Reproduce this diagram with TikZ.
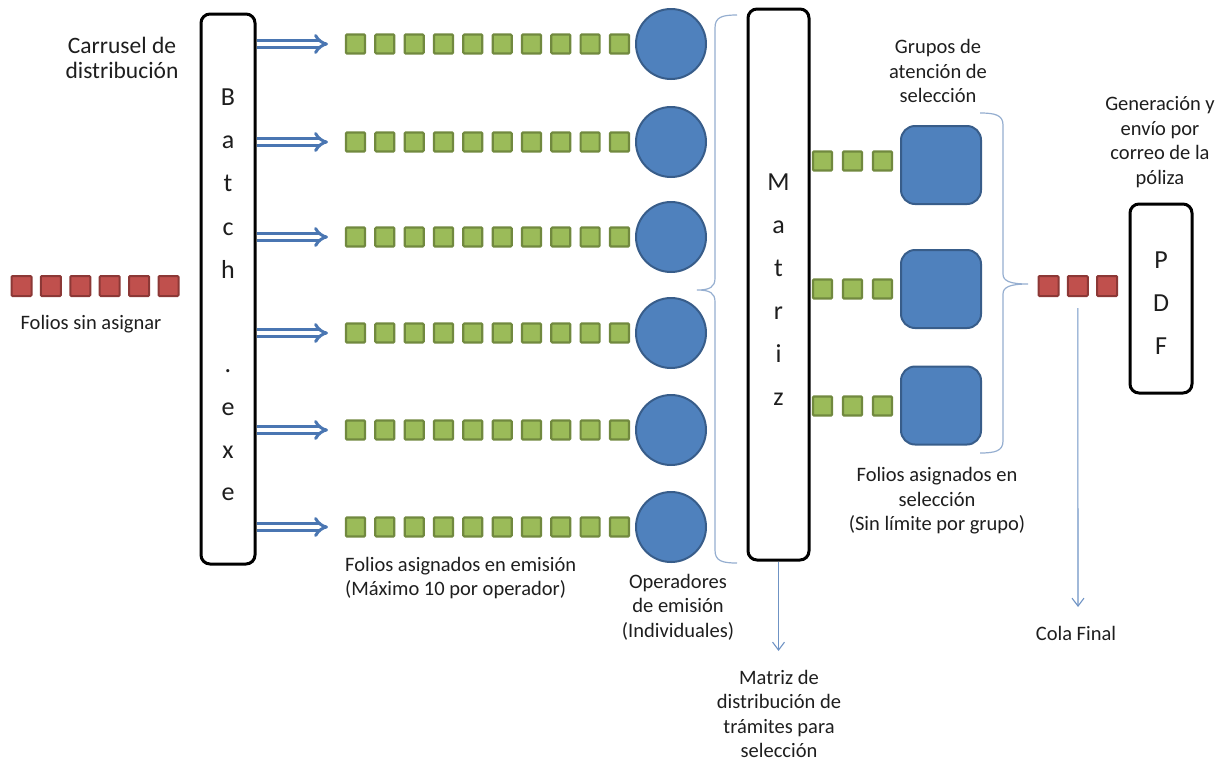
\documentclass[tikz,border=0pt]{standalone}
\usepackage{fontspec}
\setmainfont{Carlito}
\usetikzlibrary{arrows.meta}

\definecolor{sqgreen}{HTML}{9BBB59}
\definecolor{gborder}{HTML}{71893F}
\definecolor{opblue}{HTML}{4F81BD}
\definecolor{opborder}{HTML}{385D8A}
\definecolor{sqred}{HTML}{C0504D}
\definecolor{rborder}{HTML}{8C3836}
\definecolor{arrowblue}{HTML}{4A76B2}
\definecolor{bracecol}{HTML}{95AED0}
\definecolor{thinblue}{HTML}{6F93C4}
\definecolor{txt}{HTML}{1E1E1E}

\begin{document}
\begin{tikzpicture}[x=1pt,y=-1pt,
  label/.style={font=\fontsize{20.5}{24.5}\selectfont, text=txt, align=center, inner sep=0pt},
  biglabel/.style={font=\fontsize{23.5}{25}\selectfont, text=txt, align=center, inner sep=0pt},
  boxletter/.style={font=\fontsize{26}{30}\selectfont, text=txt, anchor=base, inner sep=0pt},
  tallbox/.style={draw=black, line width=3pt, rounded corners=9pt, fill=white, inner sep=0pt},
  gsq/.style={draw=gborder, fill=sqgreen, line width=2.2pt, minimum size=19pt, inner sep=0pt, rounded corners=1pt},
  rsq/.style={draw=rborder, fill=sqred, line width=2pt, minimum size=20pt, inner sep=0pt, rounded corners=1pt},
  opcirc/.style={circle, draw=opborder, fill=opblue, line width=2pt, minimum size=70pt, inner sep=0pt},
  grpbox/.style={draw=opborder, fill=opblue, line width=2pt, minimum width=80pt, minimum height=78pt, rounded corners=14pt, inner sep=0pt},
  dblarrow/.style={draw=arrowblue, line width=3pt, double=white, double distance=3.4pt, -{Implies[scale=1.5]}},
  bracepath/.style={draw=bracecol, line width=1.2pt},
  thinarrow/.style={draw=thinblue, line width=1.1pt, -{Straight Barb[length=8pt,width=12pt]}}
]
\useasboundingbox (0,0) rectangle (1226,764);

% --- Batch.exe distribution column
\node[tallbox, minimum width=54pt, minimum height=550pt] (batch) at (228,289) {};
\foreach \l/\y [count=\i] in {B/105,a/148,t/191,c/235,h/278,./372,e/415,x/458,e/500}
  \node[boxletter] (bl\i) at (228,\y) {\l};
\node[biglabel] (carrusel) at (122,58) {Carrusel de\\distribución};

% --- unassigned folios
\foreach \k in {0,...,5}
  \node[rsq] (u\k) at ({21.5+29.4*\k},286) {};
\node[label] (sinasignar) at (91,324) {Folios sin asignar};

% --- emission rows: queue of ten folios and one operator each
\foreach \r/\y in {1/44,2/142,3/237,4/333,5/430,6/527}{
  \coordinate (tip\r) at (328,\y);
  \draw[dblarrow] (batch.east |- tip\r) -- (tip\r);
  \foreach \k in {0,...,9}
    \node[gsq] (g\r-\k) at ({355.5+29.33*\k},\y) {};
  \node[opcirc] (op\r) at (671,\y) {};
}
\node[label, align=left, anchor=west] (emision) at (345,578) {Folios asignados en emisión\\(Máximo 10 por operador)};
\node[label] (operadores) at (678,607) {Operadores\\de emisión\\(Individuales)};

% --- brace grouping the operators
\draw[bracepath] (737,15) .. controls (722,15) and (715,17) .. (715,28) -- (715,278)
  .. controls (715,287) and (710,290) .. (697,290)
  .. controls (710,290) and (715,293) .. (715,302) -- (715,550)
  .. controls (715,561) and (722,563) .. (737,563);

% --- Matriz column
\node[tallbox, minimum width=61pt, minimum height=551pt] (matriz) at (778.5,284.5) {};
\foreach \l/\y [count=\i] in {M/190,a/233,t/276,r/319,i/362,z/405}
  \node[boxletter] (ml\i) at (778.5,\y) {\l};
\coordinate (mend) at (778.5,651);
\draw[thinarrow] (matriz.south) -- (mend);
\node[label] (matrizlbl) at (779,714) {Matriz de\\distribución de\\trámites para\\selección};

% --- selection groups
\foreach \r/\y/\by in {1/161/165,2/289/289,3/406/405.5}{
  \foreach \k in {0,1,2}
    \node[gsq] (s\r-\k) at ({822.5+30*\k},\y) {};
  \node[grpbox] (grp\r) at (941,\by) {};
}
\node[label] (grupos) at (938,71) {Grupos de\\atención de\\selección};
\node[label] (seleccion) at (937,501) {Folios asignados en\\selección\\(Sin límite por grupo)};

% --- brace grouping the selection groups
\draw[bracepath] (980,113) .. controls (995,113) and (1003,115) .. (1003,125) -- (1003,274)
  .. controls (1003,281) and (1010,284) .. (1028,284)
  .. controls (1010,284) and (1003,287) .. (1003,294) -- (1003,441)
  .. controls (1003,451) and (995,453) .. (980,453);

% --- final queue
\foreach \k in {0,1,2}
  \node[rsq] (f\k) at ({1048.5+29.3*\k},286) {};
\coordinate (colaend) at (1078,607);
\draw[thinarrow, shorten <=11pt] (f1.south) -- (colaend);
\node[label] (cola) at (1076,633) {Cola Final};

% --- PDF generation
\node[tallbox, minimum width=62pt, minimum height=189pt] (pdf) at (1161,298.5) {};
\foreach \l/\y [count=\i] in {P/268,D/311,F/354}
  \node[boxletter] (pl\i) at (1161,\y) {\l};
\node[label] (generacion) at (1160,142) {Generación y\\envío por\\correo de la\\póliza};
\end{tikzpicture}
\end{document}
